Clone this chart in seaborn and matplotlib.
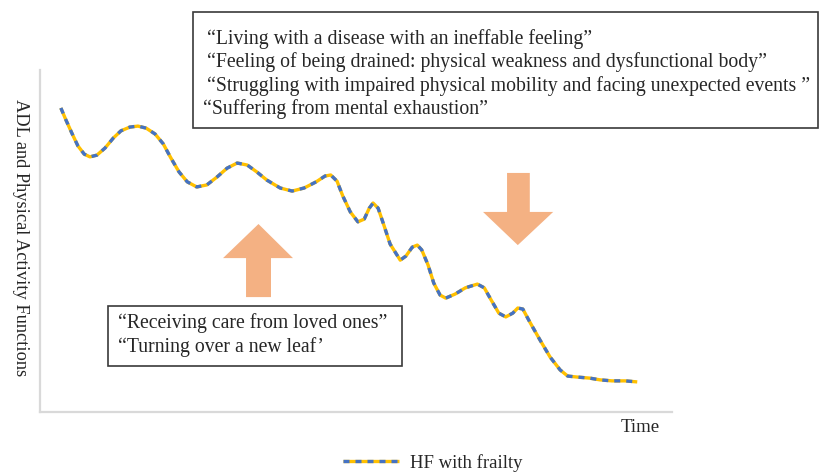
import matplotlib
matplotlib.use("Agg")
import matplotlib.pyplot as plt
from matplotlib.patches import Rectangle, Polygon
import pandas as pd
import seaborn as sns

# values (time 0-100, function 0-100)
time = [3.3, 4.1, 5.1, 6.0, 7.0, 7.9, 9.0, 10.3, 11.6, 12.8, 14.2, 15.5, 16.8, 18.2,
        19.5, 20.7, 22.0, 23.3, 24.8, 26.4, 28.0, 29.6, 31.2, 32.8, 34.3, 35.9, 38.0,
        39.9, 41.8, 43.7, 45.1, 46.0, 47.0, 47.9, 49.1, 50.3, 51.3, 52.1, 52.7, 53.5,
        54.4, 55.4, 57.0, 57.9, 58.9, 59.7, 60.4, 61.4, 62.3, 63.3, 64.2, 65.7, 67.3,
        69.2, 70.3, 71.4, 72.6, 73.7, 74.8, 75.6, 76.4, 77.5, 79.1, 80.7, 82.3, 83.5,
        85.1, 87.0, 88.6, 90.5, 92.6, 94.5]
function = [88.9, 85.4, 81.3, 77.8, 75.4, 74.6, 75.1, 77.2, 80.1, 82.2, 83.3, 83.6, 83.0, 81.3,
            78.4, 74.3, 70.2, 67.3, 65.8, 66.4, 68.7, 71.3, 72.8, 72.2, 70.2, 67.8, 65.5,
            64.6, 65.5, 67.3, 69.0, 69.3, 67.5, 63.2, 58.5, 55.6, 56.4, 59.6, 61.1, 59.6,
            54.7, 49.1, 44.4, 45.6, 48.2, 48.8, 47.4, 43.0, 37.7, 34.2, 33.3, 34.5, 36.3,
            37.4, 36.3, 32.7, 28.9, 27.8, 28.9, 30.4, 30.1, 26.3, 21.1, 16.1, 12.3, 10.5,
            10.2, 9.9, 9.4, 9.1, 9.1, 8.8]

quotes_decline = [
    "\u201cLiving with a disease with an ineffable feeling\u201d",
    "\u201cFeeling of being drained: physical weakness and dysfunctional body\u201d",
    "\u201cStruggling with impaired physical mobility and facing unexpected events \u201d",
    "\u201cSuffering from mental exhaustion\u201d",
]
quotes_improve = [
    "\u201cReceiving care from loved ones\u201d",
    "\u201cTurning over a new leaf\u2019",
]
series_label = "HF with frailty"
y_title = "ADL and Physical Activity Functions"
x_title = "Time"

sns.set_style("white")
plt.rcParams["font.family"] = ["Liberation Serif", "DejaVu Serif"]

W, H = 823, 474
fig = plt.figure(figsize=(W / 100, H / 100), dpi=100)
ax = fig.add_axes([40 / W, 1 - 412 / H, 632 / W, 342 / H])

df = pd.DataFrame({"time": time, "function": function})
sns.lineplot(data=df, x="time", y="function", ax=ax, color="#FFC000", lw=2.4,
             sort=False, solid_capstyle="butt")
sns.lineplot(data=df, x="time", y="function", ax=ax, color="#4472C4", lw=2.4,
             sort=False, dashes=False, linestyle=(0, (1.8, 1.8)))
yellow, blue = ax.lines[0], ax.lines[1]

ax.set_xlim(0, 100)
ax.set_ylim(0, 100)
ax.set_xticks([])
ax.set_yticks([])
ax.set_xlabel("")
ax.set_ylabel("")
for s in ["top", "right"]:
    ax.spines[s].set_visible(False)
for s in ["left", "bottom"]:
    ax.spines[s].set_color("#d9d9d9")
    ax.spines[s].set_linewidth(1.6)

arrow_color = "#F4B183"
up = [(0.326, 0.336), (0.3655, 0.336), (0.3655, 0.450), (0.4003, 0.450),
      (0.3457, 0.5497), (0.2896, 0.450), (0.326, 0.450)]
down = [(0.739, 0.699), (0.775, 0.699), (0.775, 0.585), (0.812, 0.585),
        (0.756, 0.488), (0.701, 0.585), (0.739, 0.585)]
for pts in (up, down):
    ax.add_patch(Polygon(pts, closed=True, transform=ax.transAxes,
                         facecolor=arrow_color, edgecolor="none", zorder=1))

fs = 14.2
# top quote box
fig.patches.append(Rectangle((193 / W, 1 - 128 / H), 625 / W, 116 / H,
                             transform=fig.transFigure, fill=False,
                             edgecolor="#3a3a3a", lw=1.2))
for i, (q, x0) in enumerate(zip(quotes_decline, [207, 207, 207, 203])):
    fig.text(x0 / W, 1 - (39 + 23.3 * i) / H, q, fontsize=fs, va="center", ha="left")

# bottom quote box
fig.patches.append(Rectangle((108 / W, 1 - 366 / H), 294 / W, 60 / H,
                             transform=fig.transFigure, fill=False,
                             edgecolor="#3a3a3a", lw=1.2))
for i, q in enumerate(quotes_improve):
    fig.text(118 / W, 1 - (323 + 24 * i) / H, q, fontsize=fs, va="center", ha="left")

fig.text(20 / W, 1 - 238 / H, y_title, rotation=270, fontsize=13.2,
         ha="center", va="center")
fig.text(640 / W, 1 - 428 / H, x_title, fontsize=13.5, ha="center", va="center")

fig.legend(handles=[(yellow, blue)], labels=[series_label], loc="center",
           bbox_to_anchor=(433 / W, 1 - 463 / H), frameon=False, fontsize=13.5,
           handlelength=3.0, handletextpad=0.6)

fig.savefig("out.png", dpi=100)
